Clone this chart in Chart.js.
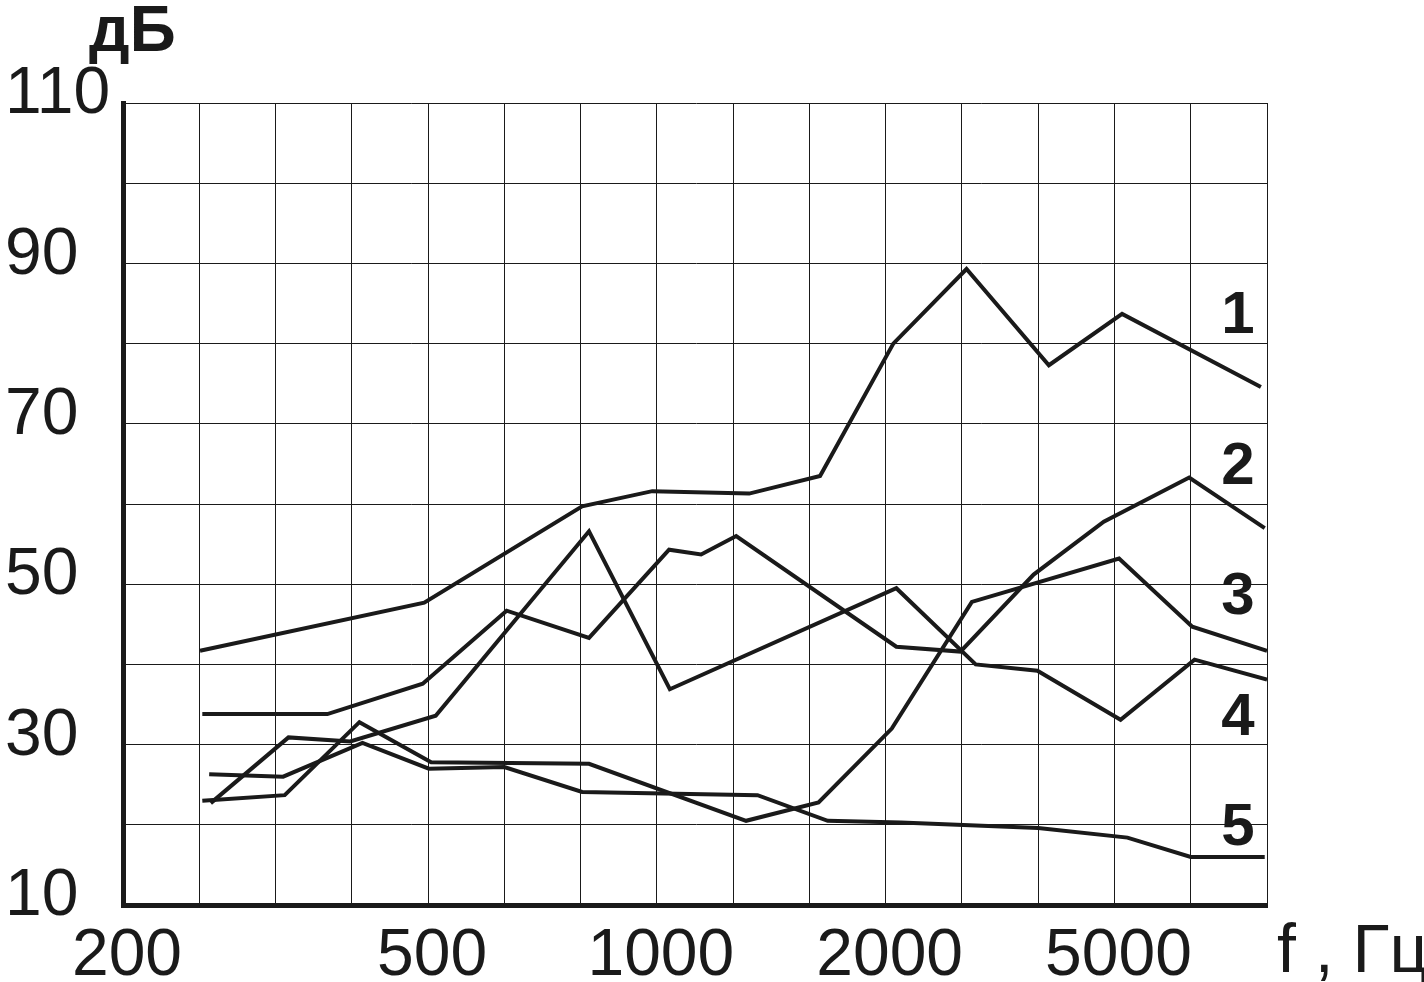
<!DOCTYPE html>
<html lang="ru">
<head>
<meta charset="utf-8">
<title>дБ — f, Гц</title>
<script src="https://cdn.jsdelivr.net/npm/chart.js@4/dist/chart.umd.min.js"></script>
<style>
  html, body { margin: 0; padding: 0; background: #fff; }
</style>
</head>
<body>
<canvas id="myChart" width="1424" height="982"></canvas>
<script>
"use strict";

// x is counted in grid steps from 200 Hz (0 = 200, 4 = 500, 7 = 1000, 10 = 2000, 13 = 5000)
const xTickLabels = ["200", "", "", "", "500", "", "", "1000", "", "", "2000", "", "", "5000", "", ""];
const yLabelled = [10, 30, 50, 70, 90, 110];

const curve1X = [1.01, 3.95, 6.02, 6.94, 8.21, 9.14, 10.1, 11.06, 12.14, 13.1, 14.92];
const curve1Db = [41.7, 47.7, 59.7, 61.6, 61.3, 63.5, 80.0, 89.3, 77.3, 83.7, 74.6];

const curve2X = [1.04, 2.68, 3.93, 5.03, 6.11, 7.16, 7.58, 8.04, 10.14, 10.98, 11.94, 12.86, 13.98, 14.97];
const curve2Db = [33.8, 33.8, 37.6, 46.7, 43.3, 54.3, 53.7, 56.0, 42.2, 41.6, 51.2, 57.8, 63.3, 57.0];

const curve3X = [1.04, 2.12, 3.1, 4.04, 6.11, 8.17, 9.12, 10.08, 11.13, 13.06, 14.02, 15.0];
const curve3Db = [23.0, 23.7, 32.8, 27.8, 27.6, 20.5, 22.8, 32.0, 47.8, 53.2, 44.7, 41.7];

const curve4X = [1.15, 2.17, 2.98, 4.1, 6.11, 7.17, 10.14, 11.18, 11.99, 13.08, 14.05, 15.0];
const curve4Db = [22.7, 30.9, 30.4, 33.6, 56.6, 36.9, 49.5, 40.0, 39.2, 33.1, 40.6, 38.1];

const curve5X = [1.13, 2.1, 3.14, 4.01, 5.0, 6.02, 8.32, 9.24, 10.2, 12.0, 13.17, 14.0, 14.97];
const curve5Db = [26.3, 26.0, 30.2, 27.0, 27.2, 24.1, 23.7, 20.5, 20.3, 19.6, 18.4, 16.0, 16.0];

const curveNames = ["1", "2", "3", "4", "5"];
const curveNameDb = [83.4, 64.5, 48.3, 33.3, 19.5];
const curveNameX = 14.62;

const INK = "#1a1a1a";
const FONT = "'Liberation Sans', Arial, sans-serif";

function toPoints(xs, ys) {
  return xs.map((x, i) => ({ x: x, y: ys[i] }));
}

function curve(xs, ys) {
  return {
    data: toPoints(xs, ys),
    borderColor: INK,
    borderWidth: 4,
    borderJoinStyle: "miter",
    pointRadius: 0,
    fill: false,
    tension: 0,
  };
}

// curve numbers and the two axis captions
const textPlugin = {
  id: "texts",
  afterDraw(chart) {
    const ctx = chart.ctx;
    const sx = chart.scales.x;
    const sy = chart.scales.y;
    ctx.save();
    ctx.fillStyle = INK;
    ctx.font = "bold 60px " + FONT;
    ctx.textAlign = "center";
    ctx.textBaseline = "middle";
    for (let i = 0; i < curveNames.length; i++) {
      ctx.fillText(curveNames[i], sx.getPixelForValue(curveNameX), sy.getPixelForValue(curveNameDb[i]));
    }
    ctx.textAlign = "left";
    ctx.textBaseline = "alphabetic";
    ctx.font = "bold 64px " + FONT;
    ctx.fillText("дБ", 89, 51);
    ctx.font = "68px " + FONT;
    ctx.fillText("f , Гц", 1277, 972);
    ctx.restore();
  },
};

const ctx = document.getElementById("myChart").getContext("2d");
const myChart = new Chart(ctx, {
  type: "line",
  data: {
    datasets: [
      curve(curve1X, curve1Db),
      curve(curve2X, curve2Db),
      curve(curve3X, curve3Db),
      curve(curve4X, curve4Db),
      curve(curve5X, curve5Db),
    ],
  },
  options: {
    responsive: false,
    animation: false,
    layout: { padding: { left: 5, top: 103, right: 157, bottom: 0 } },
    plugins: {
      legend: { display: false },
      tooltip: { enabled: false },
    },
    scales: {
      x: {
        type: "linear",
        min: 0,
        max: 15,
        afterFit: (s) => { s.height = 77; },
        grid: { color: INK, lineWidth: 1, drawTicks: false },
        border: { color: INK, width: 5 },
        ticks: {
          stepSize: 1,
          autoSkip: false,
          maxRotation: 0,
          padding: 12,
          labelOffset: 4,
          color: INK,
          font: { family: FONT, size: 66 },
          callback: (v) => xTickLabels[v] ?? "",
        },
      },
      y: {
        min: 10,
        max: 110,
        afterFit: (s) => { s.width = 118; },
        grid: { color: INK, lineWidth: 1, drawTicks: false },
        border: { color: INK, width: 5 },
        ticks: {
          stepSize: 10,
          autoSkip: false,
          crossAlign: "far",
          labelOffset: -8,
          color: INK,
          font: { family: FONT, size: 66 },
          callback: (v) => (yLabelled.includes(v) ? String(v) : ""),
        },
      },
    },
  },
  plugins: [textPlugin],
});
</script>
</body>
</html>
